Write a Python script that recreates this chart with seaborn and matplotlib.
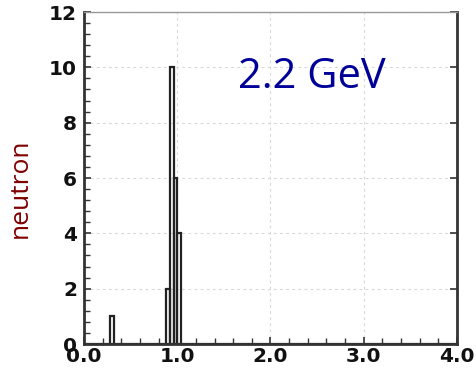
import numpy as np
import pandas as pd
import matplotlib
matplotlib.use("Agg")
import matplotlib.pyplot as plt
import seaborn as sns
from matplotlib.ticker import MultipleLocator

# Data (bin centres and counts, bin width 0.04)
bin_centers = [0.30, 0.90, 0.94, 0.98, 1.02]
counts = [1, 2, 10, 6, 4]
x_ticks = [0.0, 1.0, 2.0, 3.0, 4.0]
x_tick_labels = ["0.0", "1.0", "2.0", "3.0", "4.0"]
y_ticks = [0, 2, 4, 6, 8, 10, 12]
annotation = "2.2 GeV"
y_label = "neutron"

df = pd.DataFrame({"x": bin_centers, "w": counts})

sns.set_style("white")
fig = plt.figure(figsize=(4.77, 3.73), dpi=100)
ax = fig.add_axes([0.1761, 0.0777, 0.958 - 0.1761, 0.9678 - 0.0777])

sns.histplot(data=df, x="x", weights="w", binwidth=0.04, binrange=(0, 4),
             element="bars", fill=False, color="#222222", linewidth=1.6, ax=ax)

ax.set_xlim(0, 4)
ax.set_ylim(0, 12)
ax.set_xticks(x_ticks)
ax.set_xticklabels(x_tick_labels)
ax.set_yticks(y_ticks)
ax.xaxis.set_minor_locator(MultipleLocator(0.2))
ax.yaxis.set_minor_locator(MultipleLocator(0.4))
ax.grid(True, which="major", linestyle=(0, (2.5, 3)), color="#d8d8d8", linewidth=0.8)
ax.set_xlabel("")
ax.set_ylabel("")

for lab in ax.get_xticklabels() + ax.get_yticklabels():
    lab.set_fontweight("bold")
    lab.set_fontsize(14.5)
    lab.set_family("DejaVu Sans")
    lab.set_color("#111111")

ax.tick_params(axis="x", which="both", bottom=True, top=False, direction="in")
ax.tick_params(axis="y", which="both", left=True, direction="in")
ax.tick_params(axis="y", which="major", right=True)
ax.tick_params(axis="both", which="major", length=5, width=1.2, color="#333333")
ax.tick_params(axis="both", which="minor", length=4, width=1.0, color="#333333")
ax.tick_params(axis="x", which="major", pad=2)
ax.tick_params(axis="y", which="major", pad=5)

for s in ["left", "bottom", "right"]:
    ax.spines[s].set_visible(True)
    ax.spines[s].set_color("#333333")
    ax.spines[s].set_linewidth(2)
ax.spines["top"].set_visible(True)
ax.spines["top"].set_color("#999999")
ax.spines["top"].set_linewidth(1)

ax.text(1.65, 9.25, annotation, color="#000099", fontsize=30,
        family="Open Sans", ha="left", va="baseline")

fig.text(0.042, 0.496, y_label, rotation=90, color="#800000", fontsize=19,
         family="Open Sans", ha="center", va="center")

fig.savefig("out.png", dpi=100)
